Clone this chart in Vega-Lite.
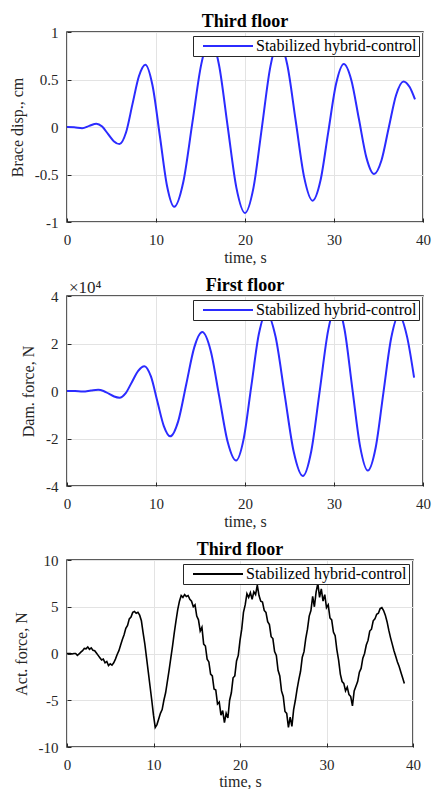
{
  "$schema": "https://vega.github.io/schema/vega-lite/v6.json",
  "padding": {"left": 8, "top": 12, "right": 2, "bottom": 0},
  "background": "white",
  "spacing": 74,
  "bounds": "flush",
  "resolve": {
    "scale": {"x": "independent", "y": "independent", "color": "independent"},
    "legend": {"color": "independent"}
  },
  "config": {
    "font": "Liberation Serif",
    "view": {"stroke": "#262626", "strokeWidth": 1.5},
    "axis": {
      "labelFont": "Liberation Serif", "labelFontSize": 15, "labelColor": "#262626",
      "titleFont": "Liberation Serif", "titleFontSize": 16, "titleFontWeight": "normal", "titleColor": "#262626",
      "grid": true, "gridColor": "#e3e3e3", "gridWidth": 1,
      "domain": false, "ticks": true, "tickSize": -4, "tickColor": "#262626", "tickWidth": 1,
      "labelPadding": 8, "titlePadding": 5,
      "labelFlush": false, "labelOverlap": false
    },
    "axisX": {"labelPadding": 14, "titlePadding": 2},
    "axisY": {"labelPadding": 13, "titlePadding": 9},
    "title": {"font": "Liberation Serif", "fontSize": 18, "fontWeight": "bold", "color": "#000000", "offset": -6, "baseline": "alphabetic"},
    "legend": {
      "orient": "top-right", "offset": 4, "title": null,
      "strokeColor": "#262626", "fillColor": "white", "padding": 2,
      "labelFont": "Liberation Serif", "labelFontSize": 16, "labelColor": "#000000", "labelLimit": 400,
      "symbolType": "M-5,0H5", "symbolSize": 100, "symbolStrokeWidth": 2,
      "symbolOffset": 25, "labelOffset": 20
    }
  },
  "datasets": {
    "disp": [
      {"t":0,"v":0},{"t":0.8,"v":-0.002},{"t":1.7,"v":-0.012},{"t":2.5,"v":0.012},{"t":3.3,"v":0.035},
      {"t":3.95,"v":0.004},{"t":4.6,"v":-0.073},{"t":5.25,"v":-0.149},{"t":5.9,"v":-0.18},
      {"t":6.63,"v":-0.058},{"t":7.35,"v":0.238},{"t":8.08,"v":0.534},{"t":8.8,"v":0.656},
      {"t":9.61,"v":0.437},{"t":10.43,"v":-0.092},{"t":11.24,"v":-0.621},{"t":12.05,"v":-0.84},
      {"t":13.06,"v":-0.582},{"t":14.08,"v":0.04},{"t":15.09,"v":0.662},{"t":16.1,"v":0.92},
      {"t":17.08,"v":0.653},{"t":18.05,"v":0.008},{"t":19.03,"v":-0.638},{"t":20.0,"v":-0.905},
      {"t":20.95,"v":-0.641},{"t":21.9,"v":-0.003},{"t":22.85,"v":0.636},{"t":23.8,"v":0.9},
      {"t":24.75,"v":0.655},{"t":25.7,"v":0.063},{"t":26.65,"v":-0.53},{"t":27.6,"v":-0.775},
      {"t":28.48,"v":-0.564},{"t":29.35,"v":-0.056},{"t":30.23,"v":0.452},{"t":31.1,"v":0.663},
      {"t":31.95,"v":0.493},{"t":32.8,"v":0.084},{"t":33.65,"v":-0.325},{"t":34.5,"v":-0.495},
      {"t":35.33,"v":-0.352},{"t":36.15,"v":-0.008},{"t":36.98,"v":0.337},{"t":37.8,"v":0.48},
      {"t":38.5,"v":0.42},{"t":39.1,"v":0.29}
    ],
    "damp": [
      {"t":0,"v":0},{"t":0.9,"v":-50},{"t":1.8,"v":-200},{"t":2.7,"v":200},{"t":3.5,"v":500},
      {"t":4.1,"v":20},{"t":4.7,"v":-1150},{"t":5.3,"v":-2320},{"t":5.9,"v":-2800},
      {"t":6.6,"v":-860},{"t":7.3,"v":3830},{"t":8.0,"v":8510},{"t":8.7,"v":10450},
      {"t":9.43,"v":6120},{"t":10.15,"v":-4330},{"t":10.88,"v":-14770},{"t":11.6,"v":-19100},
      {"t":12.5,"v":-12670},{"t":13.4,"v":2850},{"t":14.3,"v":18370},{"t":15.2,"v":24800},
      {"t":16.15,"v":16880},{"t":17.1,"v":-2250},{"t":18.05,"v":-21380},{"t":19.0,"v":-29300},
      {"t":19.85,"v":-20170},{"t":20.7,"v":1850},{"t":21.55,"v":23870},{"t":22.4,"v":33000},
      {"t":23.43,"v":22920},{"t":24.45,"v":-1400},{"t":25.48,"v":-25720},{"t":26.5,"v":-35800},
      {"t":27.45,"v":-25250},{"t":28.4,"v":200},{"t":29.35,"v":25650},{"t":30.3,"v":36200},
      {"t":31.18,"v":25990},{"t":32.05,"v":1350},{"t":32.93,"v":-23290},{"t":33.8,"v":-33500},
      {"t":34.68,"v":-23900},{"t":35.55,"v":-750},{"t":36.43,"v":22400},{"t":37.3,"v":32000},
      {"t":38.2,"v":23000},{"t":39.0,"v":5600}
    ],
    "act": [
      {"t":0.0,"v":0},{"t":0.2,"v":0},{"t":0.4,"v":0},{"t":0.6,"v":-0.05},{"t":0.8,"v":0},
      {"t":1.0,"v":0},{"t":1.2,"v":-0.2},{"t":1.4,"v":-0.05},{"t":1.6,"v":0.15},{"t":1.8,"v":0.3},
      {"t":2.0,"v":0.55},{"t":2.2,"v":0.5},{"t":2.4,"v":0.7},{"t":2.6,"v":0.45},{"t":2.8,"v":0.6},
      {"t":3.0,"v":0.35},{"t":3.2,"v":0.3},{"t":3.4,"v":0.05},{"t":3.6,"v":-0.2},{"t":3.8,"v":-0.45},
      {"t":4.0,"v":-0.7},{"t":4.2,"v":-0.6},{"t":4.4,"v":-1.0},{"t":4.6,"v":-0.85},{"t":4.8,"v":-1.3},
      {"t":5.0,"v":-1.1},{"t":5.2,"v":-1.25},{"t":5.4,"v":-1.0},{"t":5.6,"v":-0.6},{"t":5.8,"v":-0.1},
      {"t":6.0,"v":0.3},{"t":6.2,"v":0.9},{"t":6.4,"v":1.5},{"t":6.6,"v":2.0},{"t":6.8,"v":2.7},
      {"t":7.0,"v":3.0},{"t":7.2,"v":3.7},{"t":7.4,"v":3.9},{"t":7.6,"v":4.4},{"t":7.8,"v":4.5},
      {"t":8.0,"v":4.3},{"t":8.2,"v":4.4},{"t":8.4,"v":4.1},{"t":8.6,"v":3.5},{"t":8.8,"v":2.2},
      {"t":9.0,"v":1.0},{"t":9.2,"v":-0.5},{"t":9.4,"v":-2.0},{"t":9.6,"v":-3.5},{"t":9.8,"v":-5.0},
      {"t":10.0,"v":-6.6},{"t":10.2,"v":-7.9},{"t":10.4,"v":-7.6},{"t":10.6,"v":-7.0},{"t":10.8,"v":-6.4},
      {"t":11.0,"v":-6.0},{"t":11.2,"v":-5.0},{"t":11.4,"v":-4.2},{"t":11.6,"v":-3.0},{"t":11.8,"v":-1.8},
      {"t":12.0,"v":-0.5},{"t":12.2,"v":0.8},{"t":12.4,"v":2.2},{"t":12.6,"v":3.5},{"t":12.8,"v":4.7},
      {"t":13.0,"v":5.6},{"t":13.2,"v":6.2},{"t":13.4,"v":6.0},{"t":13.6,"v":6.3},{"t":13.8,"v":6.1},
      {"t":14.0,"v":6.2},{"t":14.2,"v":5.8},{"t":14.4,"v":5.6},{"t":14.6,"v":5.0},{"t":14.8,"v":5.2},
      {"t":15.0,"v":4.0},{"t":15.2,"v":3.6},{"t":15.4,"v":2.4},{"t":15.6,"v":2.8},{"t":15.8,"v":1.0},
      {"t":16.0,"v":0.8},{"t":16.2,"v":-0.6},{"t":16.4,"v":-0.9},{"t":16.6,"v":-2.2},{"t":16.8,"v":-2.4},
      {"t":17.0,"v":-3.8},{"t":17.2,"v":-3.9},{"t":17.4,"v":-5.4},{"t":17.6,"v":-5.2},{"t":17.8,"v":-6.6},
      {"t":18.0,"v":-6.1},{"t":18.2,"v":-7.4},{"t":18.4,"v":-6.4},{"t":18.6,"v":-6.9},{"t":18.8,"v":-5.0},
      {"t":19.0,"v":-4.2},{"t":19.2,"v":-2.6},{"t":19.4,"v":-2.4},{"t":19.6,"v":-0.8},{"t":19.8,"v":-0.2},
      {"t":20.0,"v":1.4},{"t":20.2,"v":2.6},{"t":20.4,"v":4.4},{"t":20.6,"v":5.2},{"t":20.8,"v":6.4},
      {"t":21.0,"v":6.0},{"t":21.2,"v":6.5},{"t":21.4,"v":5.8},{"t":21.6,"v":6.6},{"t":21.8,"v":6.3},
      {"t":22.0,"v":7.3},{"t":22.2,"v":6.2},{"t":22.4,"v":5.6},{"t":22.6,"v":5.5},{"t":22.8,"v":4.6},
      {"t":23.0,"v":4.4},{"t":23.2,"v":3.4},{"t":23.4,"v":3.1},{"t":23.6,"v":1.8},{"t":23.8,"v":1.6},
      {"t":24.0,"v":0.2},{"t":24.2,"v":-0.2},{"t":24.4,"v":-1.8},{"t":24.6,"v":-2.4},{"t":24.8,"v":-4.0},
      {"t":25.0,"v":-4.6},{"t":25.2,"v":-6.2},{"t":25.4,"v":-6.4},{"t":25.6,"v":-7.9},{"t":25.8,"v":-6.8},
      {"t":26.0,"v":-7.8},{"t":26.2,"v":-6.0},{"t":26.4,"v":-5.0},{"t":26.6,"v":-3.8},{"t":26.8,"v":-2.8},
      {"t":27.0,"v":-1.9},{"t":27.2,"v":-0.4},{"t":27.4,"v":0.2},{"t":27.6,"v":1.6},{"t":27.8,"v":2.6},
      {"t":28.0,"v":4.0},{"t":28.2,"v":4.6},{"t":28.4,"v":6.1},{"t":28.6,"v":5.0},{"t":28.8,"v":6.6},
      {"t":29.0,"v":7.5},{"t":29.2,"v":6.0},{"t":29.4,"v":6.9},{"t":29.6,"v":5.6},{"t":29.8,"v":6.3},
      {"t":30.0,"v":4.9},{"t":30.2,"v":5.2},{"t":30.4,"v":3.8},{"t":30.6,"v":3.6},{"t":30.8,"v":2.3},
      {"t":31.0,"v":1.9},{"t":31.2,"v":0.4},{"t":31.4,"v":-0.7},{"t":31.6,"v":-2.2},{"t":31.8,"v":-3.0},
      {"t":32.0,"v":-3.2},{"t":32.2,"v":-4.0},{"t":32.4,"v":-3.6},{"t":32.6,"v":-4.4},{"t":32.8,"v":-4.6},
      {"t":33.0,"v":-5.6},{"t":33.2,"v":-4.0},{"t":33.4,"v":-3.5},{"t":33.6,"v":-3.0},{"t":33.8,"v":-2.0},
      {"t":34.0,"v":-1.6},{"t":34.2,"v":-0.5},{"t":34.4,"v":0},{"t":34.6,"v":0.9},{"t":34.8,"v":1.4},
      {"t":35.0,"v":2.4},{"t":35.2,"v":2.6},{"t":35.4,"v":3.5},{"t":35.6,"v":3.7},{"t":35.8,"v":4.2},
      {"t":36.0,"v":4.3},{"t":36.2,"v":4.8},{"t":36.4,"v":4.9},{"t":36.6,"v":4.6},{"t":36.8,"v":4.1},
      {"t":37.0,"v":3.4},{"t":37.2,"v":2.5},{"t":37.4,"v":1.7},{"t":37.6,"v":1.0},{"t":37.8,"v":0.3},
      {"t":38.0,"v":-0.3},{"t":38.2,"v":-0.9},{"t":38.4,"v":-1.4},{"t":38.6,"v":-2.0},{"t":38.8,"v":-2.6},
      {"t":39.0,"v":-3.2}
    ]
  },
  "vconcat": [
    {
      "width": 356, "height": 190,
      "title": {"text": "Third floor"},
      "data": {"name": "disp"},
      "mark": {"type": "line", "strokeWidth": 2, "interpolate": "monotone"},
      "encoding": {
        "x": {"field": "t", "type": "quantitative", "scale": {"domain": [0, 40], "nice": false},
              "axis": {"values": [0, 10, 20, 30, 40], "title": "time, s"}},
        "y": {"field": "v", "type": "quantitative", "scale": {"domain": [-1, 1], "nice": false},
              "axis": {"values": [-1, -0.5, 0, 0.5, 1], "title": "Brace disp., cm", "labelExpr": "toString(datum.value)"}},
        "color": {"datum": "Stabilized hybrid-control", "type": "nominal", "scale": {"range": ["#2b2bff"]}}
      }
    },
    {
      "width": 356, "height": 190,
      "title": {"text": "First floor", "dy": 10},
      "layer": [
        {
          "data": {"name": "damp"},
          "mark": {"type": "line", "strokeWidth": 2, "interpolate": "monotone"},
          "encoding": {
            "x": {"field": "t", "type": "quantitative", "scale": {"domain": [0, 40], "nice": false},
                  "axis": {"values": [0, 10, 20, 30, 40], "title": "time, s"}},
            "y": {"field": "v", "type": "quantitative", "scale": {"domain": [-40000, 40000], "nice": false},
                  "axis": {"values": [-40000, -20000, 0, 20000, 40000], "title": "Dam. force, N", "labelExpr": "toString(datum.value / 10000)"}},
            "color": {"datum": "Stabilized hybrid-control", "type": "nominal", "scale": {"range": ["#2b2bff"]}}
          }
        },
        {
          "data": {"values": [{"t": 0, "v": 40000, "label": "×10⁴"}]},
          "mark": {"type": "text", "align": "left", "baseline": "bottom", "dx": 2, "dy": 1, "font": "Liberation Serif", "fontSize": 17, "color": "#262626"},
          "encoding": {
            "x": {"field": "t", "type": "quantitative", "scale": {"domain": [0, 40], "nice": false}},
            "y": {"field": "v", "type": "quantitative", "scale": {"domain": [-40000, 40000], "nice": false}},
            "text": {"field": "label"}
          }
        }
      ]
    },
    {
      "width": 346, "height": 187,
      "title": {"text": "Third floor"},
      "data": {"name": "act"},
      "mark": {"type": "line", "strokeWidth": 1.6},
      "encoding": {
        "x": {"field": "t", "type": "quantitative", "scale": {"domain": [0, 40], "nice": false},
              "axis": {"values": [0, 10, 20, 30, 40], "title": "time, s", "titlePadding": 1}},
        "y": {"field": "v", "type": "quantitative", "scale": {"domain": [-10, 10], "nice": false},
              "axis": {"values": [-10, -5, 0, 5, 10], "title": "Act. force, N", "labelExpr": "toString(datum.value)"}},
        "color": {"datum": "Stabilized hybrid-control", "type": "nominal", "scale": {"range": ["#000000"]}}
      }
    }
  ]
}
